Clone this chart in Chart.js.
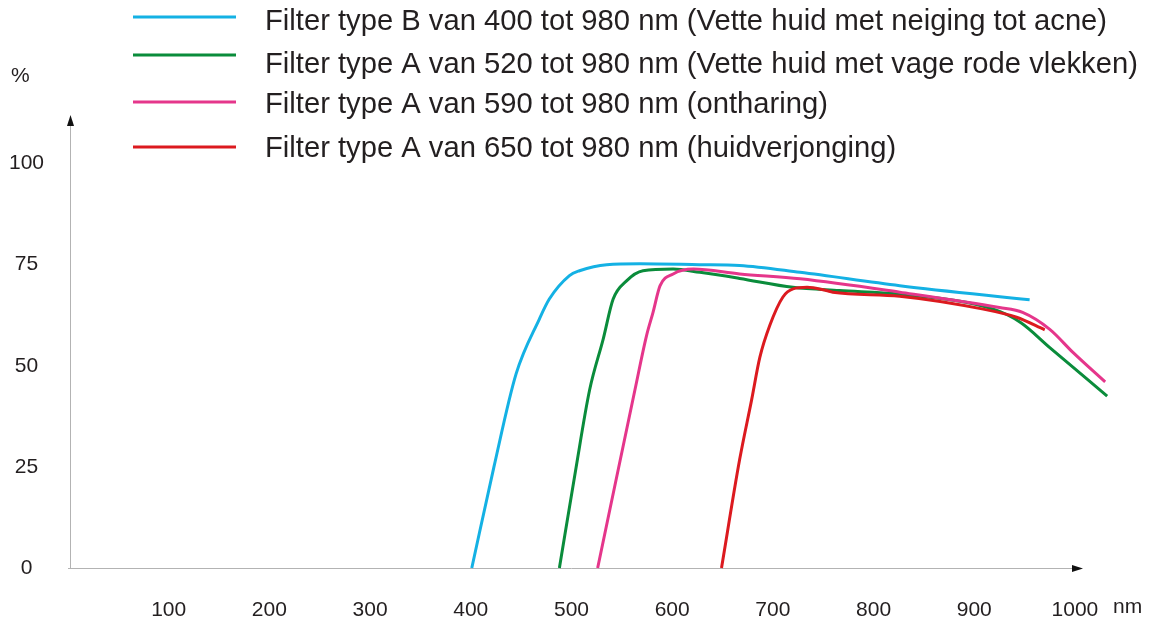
<!DOCTYPE html>
<html lang="nl">
<head>
<meta charset="utf-8">
<title>Filtertypes</title>
<script src="https://cdn.jsdelivr.net/npm/chart.js@4/dist/chart.umd.min.js"></script>
<style>
  html, body { margin: 0; padding: 0; background: #fff; }
  #wrap { width: 1151px; height: 620px; position: relative; }
</style>
</head>
<body>
<div id="wrap"><canvas id="grafiek"></canvas></div>
<script>
// Labels en tick-waarden
const xTicks = [100, 200, 300, 400, 500, 600, 700, 800, 900, 1000];
const yTicks = [0, 25, 50, 75, 100];

const labels = [
  "Filter type B van 400 tot 980 nm (Vette huid met neiging tot acne)",
  "Filter type A van 520 tot 980 nm (Vette huid met vage rode vlekken)",
  "Filter type A van 590 tot 980 nm (ontharing)",
  "Filter type A van 650 tot 980 nm (huidverjonging)"
];
const kleuren = ["#14b1e4", "#0a8c3b", "#e5368b", "#dc1a1f"];

// Filter type B 400
const nmB400 = [401, 423, 445, 468, 478, 498, 508, 535, 568, 627, 667, 727, 826, 955];
const procB400 = [0, 25, 48, 61.5, 66.5, 72.3, 73.5, 75, 75.2, 75, 74.8, 73.1, 69.8, 66.3];

// Filter type A 520
const nmA520 = [488, 504, 518, 531.5, 541.4, 554.7, 571, 601, 627.5, 667, 720, 766, 826, 919, 946, 975, 1032];
const procA520 = [0, 24, 44, 56.6, 66.5, 71, 73.5, 73.9, 73.1, 71.6, 69.4, 68.6, 67.7, 64, 60.7, 54.5, 42.5];

// Filter type A 590
const nmA590 = [526, 563, 574.5, 581, 588, 601, 621, 667, 727, 826, 925, 948, 975, 998, 1030];
const procA590 = [0, 44, 57.4, 63.2, 69.8, 72.7, 73.9, 72.7, 71.5, 68.2, 64.4, 63.2, 59, 53.3, 46];

// Filter type A 650
const nmA650 = [649, 667, 679, 687, 697, 710, 720, 734, 753, 759.5, 826, 909, 942, 970];
const procA650 = [0, 26.8, 41.7, 52, 60, 67, 69, 69.4, 68.6, 68.2, 67.2, 64, 62, 58.9];

function punten(xs, ys) {
  return xs.map((x, i) => ({ x: x, y: ys[i] }));
}

const reeksen = [punten(nmB400, procB400), punten(nmA520, procA520), punten(nmA590, procA590), punten(nmA650, procA650)];
const volgorde = [3, 2, 1, 0]; // rood bovenop

const lettertype = "'Liberation Sans', Arial, Helvetica, sans-serif";

// Assen met pijlen, legenda en eenheden
const extraTekenen = {
  id: 'extraTekenen',
  beforeDatasetsDraw(chart) {
    const c = chart.ctx;
    const a = chart.chartArea;
    const x0 = chart.scales.x.getPixelForValue(0) + 2;
    const y0 = chart.scales.y.getPixelForValue(0);
    c.save();
    c.strokeStyle = '#b3b3b3';
    c.lineWidth = 1;
    c.beginPath();
    c.moveTo(a.left, y0 + 0.5);
    c.lineTo(a.right - 8, y0 + 0.5);
    c.moveTo(x0 + 0.5, y0);
    c.lineTo(x0 + 0.5, a.top + 8);
    c.stroke();
    c.fillStyle = '#111';
    c.beginPath();
    c.moveTo(a.right, y0 + 0.5);
    c.lineTo(a.right - 11, y0 - 3);
    c.lineTo(a.right - 11, y0 + 4);
    c.closePath();
    c.fill();
    c.beginPath();
    c.moveTo(x0 + 0.5, a.top);
    c.lineTo(x0 - 3, a.top + 11);
    c.lineTo(x0 + 4, a.top + 11);
    c.closePath();
    c.fill();
    c.restore();
  },
  afterDraw(chart) {
    const c = chart.ctx;
    c.save();
    c.fillStyle = '#231f20';
    c.font = '21px ' + lettertype;
    c.textBaseline = 'middle';
    c.textAlign = 'left';
    c.fillText('%', 11, 76);
    c.fillText('nm', 1113, 607);

    // legenda
    const lijnY = [17, 55, 102, 147];
    const tekstY = [22, 65, 105, 149];
    c.font = '29.2px ' + lettertype;
    labels.forEach((t, i) => {
      c.strokeStyle = kleuren[i];
      c.lineWidth = 3;
      c.beginPath();
      c.moveTo(133, lijnY[i]);
      c.lineTo(236, lijnY[i]);
      c.stroke();
      c.fillText(t, 265, tekstY[i]);
    });
    c.restore();
  }
};

new Chart(document.getElementById('grafiek'), {
  type: 'line',
  data: {
    datasets: reeksen.map((d, i) => ({
      label: labels[i],
      data: d,
      borderColor: kleuren[i],
      borderWidth: 3,
      pointRadius: 0,
      fill: false,
      clip: false,
      cubicInterpolationMode: 'monotone',
      order: volgorde[i]
    }))
  },
  options: {
    responsive: true,
    maintainAspectRatio: false,
    animation: false,
    layout: { padding: { top: 115, right: 68, left: 0, bottom: 0 } },
    plugins: { legend: { display: false }, tooltip: { enabled: false } },
    scales: {
      x: {
        type: 'linear',
        min: 0,
        max: 1008,
        border: { display: false },
        grid: { display: false },
        afterBuildTicks: s => { s.ticks = xTicks.map(v => ({ value: v })); },
        afterFit: s => { s.height = 52; },
        ticks: {
          color: '#231f20', font: { size: 21, family: lettertype }, padding: 22,
          maxRotation: 0, autoSkip: false, callback: v => String(v)
        }
      },
      y: {
        min: 0,
        max: 112,
        border: { display: false },
        grid: { display: false },
        afterBuildTicks: s => { s.ticks = yTicks.map(v => ({ value: v })); },
        afterFit: s => { s.width = 68; },
        ticks: { color: '#231f20', font: { size: 21, family: lettertype }, padding: 16, crossAlign: 'center', callback: v => String(v) }
      }
    }
  },
  plugins: [extraTekenen]
});
</script>
</body>
</html>
